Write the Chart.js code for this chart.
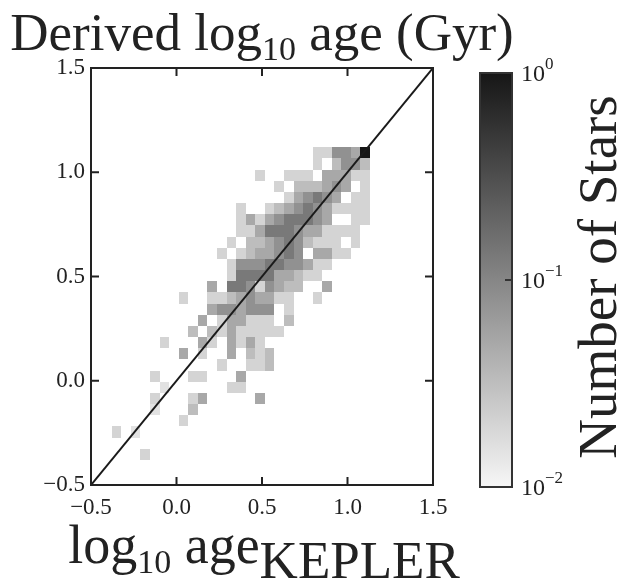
<!DOCTYPE html>
<html>
<head>
<meta charset="utf-8">
<script src="https://cdn.jsdelivr.net/npm/chart.js@4"></script>
<style>
  html, body { margin: 0; padding: 0; background: #fff; }
  #wrap { width: 636px; height: 586px; }
</style>
</head>
<body>
<div id="wrap"><canvas id="chart" width="636" height="586"></canvas></div>
<script>
// histogram bins (log10 age)
const xBinStart = -0.379;
const xBinWidth = 0.05596;
const yBinStart = -0.380;
const yBinWidth = 0.05357;

// shade code per bin, top row first, one char per x bin ('.' = empty)
const histRows = [
  "..... ..... ..... ..... .3366 59",
  "..... ..... ..... ..... .3.46 64",
  "..... ..... ..... 3..33 3.555 33",
  "..... ..... ..... ..3.4 44565 .3",
  "..... ..... ..... ...35 6765. 33",
  "..... ..... ...3. .3456 76533 33",
  "..... ..... ...35 35677 765.. 33",
  "..... ..... ...33 57776 55333 3.",
  "..... ..... ..3.4 45676 4333. 3.",
  "..... ..... .3.34 55676 .5533 ..",
  "..... ..... ..366 67766 533.. ..",
  "..... ..... ..377 77554 33... ..",
  "..... ..... 5.776 36544 ..5.. ..",
  "..... ..3.. 33456 5533. .3... ..",
  "..... ..... 56656 66.3. ..... ..",
  "..... ....5 .3553 33.4. ..... ..",
  "..... ...4. 43533 333.. ..... ..",
  "..... 3...5 3.535 3.... ..... ..",
  "..... ..5.3 ..5.4 34... ..... ..",
  "..... ..... .3..3 34... ..... ..",
  "....3 ...33 ...5. ..... ..... ..",
  "..... 2.... ..33. ..... ..... ..",
  "....3 ...35 ..... 5.... ..... ..",
  "....2 ...4. ..... ..... ..... ..",
  "..... ..3.. ..... ..... ..... ..",
  "3.2.. ..... ..... ..... ..... ..",
  "..... ..... ..... ..... ..... ..",
  "...3. ..... ..... ..... ..... .."
];

// normalised number of stars for each shade code
const shadeLevels = { "2": 0.015, "3": 0.02, "4": 0.032, "5": 0.05, "6": 0.08, "7": 0.13, "8": 0.2, "9": 1.0 };

const axisTicks = [-0.5, 0.0, 0.5, 1.0, 1.5];
const colorTicks = [0, -1, -2]; // powers of ten on the colour bar
const oneToOne = [{ x: -0.5, y: -0.5 }, { x: 1.5, y: 1.5 }];

const FONT = "'Liberation Serif', 'DejaVu Serif', serif";
const INK = "#222";

const histCells = [];
histRows.forEach((row, r) => {
  const j = histRows.length - 1 - r;
  row.replace(/ /g, "").split("").forEach((c, i) => {
    if (c === ".") return;
    histCells.push({
      x: xBinStart + (i + 0.5) * xBinWidth,
      y: yBinStart + (j + 0.5) * yBinWidth,
      v: shadeLevels[c]
    });
  });
});

function grey(v) {
  let t = (Math.log10(v) + 2) / 2;
  t = Math.max(0, Math.min(1, t));
  const g = Math.round(246 - 224 * t);
  return `rgb(${g},${g},${g})`;
}

function fmtTick(v) {
  return (v < 0 ? "\u2212" : "") + Math.abs(v).toFixed(1);
}

// text made of pieces with their own size / vertical shift
function drawRich(ctx, parts, x, y, align) {
  let total = 0;
  parts.forEach((p) => {
    ctx.font = p.size + "px " + FONT;
    p.w = ctx.measureText(p.text).width;
    total += p.w;
  });
  let cx = align === "center" ? x - total / 2 : align === "right" ? x - total : x;
  ctx.textAlign = "left";
  ctx.textBaseline = "alphabetic";
  parts.forEach((p) => {
    ctx.font = p.size + "px " + FONT;
    ctx.fillText(p.text, cx, y + (p.dy || 0));
    cx += p.w;
  });
}

const heatmap = {
  id: "heatmap",
  beforeDatasetsDraw(chart) {
    const { ctx, scales: { x, y } } = chart;
    const cells = chart.data.datasets[0].data;
    ctx.save();
    cells.forEach((d) => {
      const l = Math.round(x.getPixelForValue(d.x - xBinWidth / 2));
      const r = Math.round(x.getPixelForValue(d.x + xBinWidth / 2));
      const t = Math.round(y.getPixelForValue(d.y + yBinWidth / 2));
      const b = Math.round(y.getPixelForValue(d.y - yBinWidth / 2));
      ctx.fillStyle = grey(d.v);
      ctx.fillRect(l, t, r - l, b - t);
    });
    ctx.restore();
  },
  afterDatasetsDraw(chart) {
    const { ctx, chartArea: a, scales: { x, y } } = chart;
    ctx.save();
    ctx.strokeStyle = INK;
    ctx.lineWidth = 2;
    ctx.strokeRect(a.left, a.top, a.right - a.left, a.bottom - a.top);
    ctx.beginPath();
    axisTicks.forEach((v) => {
      const px = x.getPixelForValue(v);
      ctx.moveTo(px, a.bottom); ctx.lineTo(px, a.bottom - 8);
      ctx.moveTo(px, a.top); ctx.lineTo(px, a.top + 8);
      const py = y.getPixelForValue(v);
      ctx.moveTo(a.left, py); ctx.lineTo(a.left + 8, py);
      ctx.moveTo(a.right, py); ctx.lineTo(a.right - 8, py);
    });
    ctx.stroke();
    ctx.restore();
  },
  afterDraw(chart) {
    const { ctx, chartArea: a } = chart;
    ctx.save();
    ctx.fillStyle = INK;
    const mid = (a.left + a.right) / 2;

    drawRich(ctx, [
      { text: "Derived log", size: 53 },
      { text: "10", size: 34, dy: 10 },
      { text: " age (Gyr)", size: 53 }
    ], mid, 50, "center");

    drawRich(ctx, [
      { text: "log", size: 54 },
      { text: "10", size: 34, dy: 10 },
      { text: " age", size: 54 },
      { text: "KEPLER", size: 53, dy: 15 }
    ], mid + 2, 563, "center");

    // colour bar
    const cb = { left: 480, right: 512, top: 73, bottom: 487 };
    const grad = ctx.createLinearGradient(0, cb.top, 0, cb.bottom);
    grad.addColorStop(0, grey(1));
    grad.addColorStop(1, grey(0.01));
    ctx.fillStyle = grad;
    ctx.fillRect(cb.left, cb.top, cb.right - cb.left, cb.bottom - cb.top);
    ctx.strokeStyle = "#333";
    ctx.lineWidth = 2;
    ctx.strokeRect(cb.left, cb.top, cb.right - cb.left, cb.bottom - cb.top);

    ctx.fillStyle = INK;
    colorTicks.forEach((p) => {
      const ty = cb.top + (-p / 2) * (cb.bottom - cb.top);
      ctx.beginPath();
      ctx.moveTo(cb.right, ty); ctx.lineTo(cb.right - 7, ty);
      ctx.stroke();
      drawRich(ctx, [
        { text: "10", size: 24 },
        { text: (p < 0 ? "\u2212" : "") + Math.abs(p), size: 17, dy: -12 }
      ], 521, ty + 8, "left");
    });

    ctx.translate(616, 277);
    ctx.rotate(-Math.PI / 2);
    ctx.font = "55px " + FONT;
    ctx.textAlign = "center";
    ctx.textBaseline = "alphabetic";
    ctx.fillText("Number of Stars", 0, 0);
    ctx.restore();
  }
};

const tickFont = { family: FONT, size: 23 };

new Chart(document.getElementById("chart").getContext("2d"), {
  type: "scatter",
  data: {
    datasets: [
      { label: "bins", data: histCells, pointRadius: 0, pointHoverRadius: 0 },
      {
        type: "line",
        label: "1:1",
        data: oneToOne,
        borderColor: "#1a1a1a",
        borderWidth: 2,
        pointRadius: 0,
        fill: false
      }
    ]
  },
  options: {
    responsive: false,
    animation: false,
    devicePixelRatio: 1,
    layout: { padding: { top: 68, right: 203, left: 0, bottom: 0 } },
    plugins: { legend: { display: false }, tooltip: { enabled: false } },
    scales: {
      x: {
        type: "linear",
        min: -0.5,
        max: 1.5,
        afterBuildTicks: (s) => { s.ticks = axisTicks.map((v) => ({ value: v })); },
        afterFit: (s) => { s.height = 101; },
        ticks: { callback: fmtTick, font: tickFont, color: INK, padding: 9, maxRotation: 0 },
        grid: { display: false, drawTicks: false },
        border: { display: false }
      },
      y: {
        type: "linear",
        min: -0.5,
        max: 1.5,
        afterBuildTicks: (s) => { s.ticks = axisTicks.map((v) => ({ value: v })); },
        afterFit: (s) => { s.width = 91; },
        ticks: { callback: fmtTick, font: tickFont, color: INK, padding: 6 },
        grid: { display: false, drawTicks: false },
        border: { display: false }
      }
    }
  },
  plugins: [heatmap]
});
</script>
</body>
</html>
